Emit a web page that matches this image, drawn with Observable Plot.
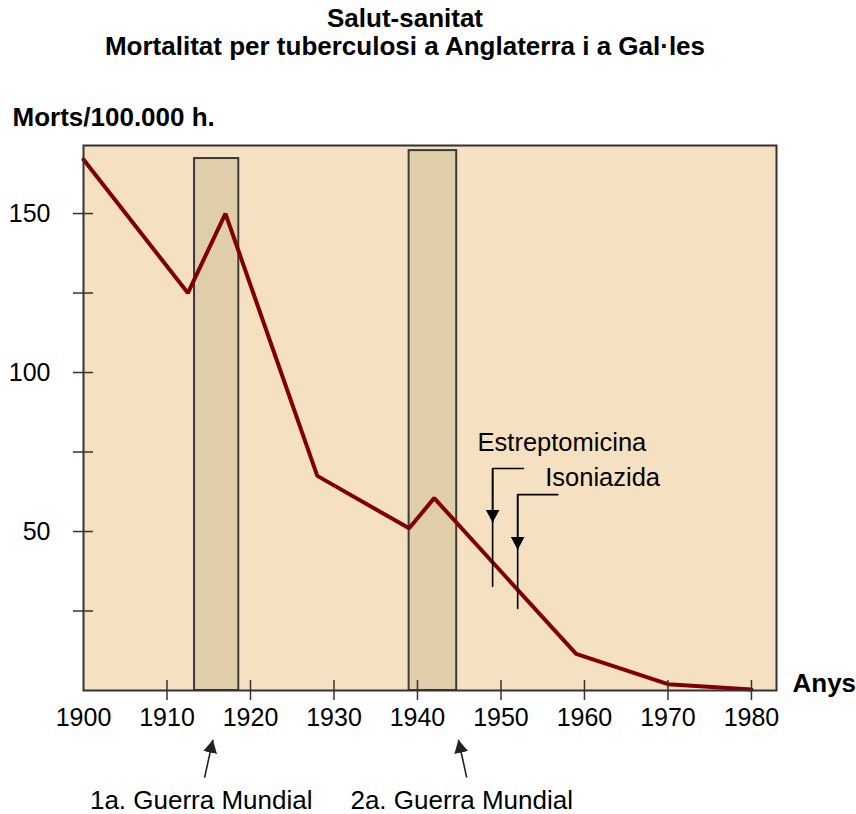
<!DOCTYPE html>
<html><head><meta charset="utf-8">
<script src="https://cdn.jsdelivr.net/npm/d3@7"></script>
<script src="https://cdn.jsdelivr.net/npm/@observablehq/plot@0.6"></script>
<style>
body{margin:0;background:#fff;font-family:"Liberation Sans",Arial,sans-serif;}
#title{width:810px;text-align:center;font-weight:bold;font-size:26px;line-height:28px;padding-top:4px;height:66px;color:#000;}
#chart svg{font-family:"Liberation Sans",Arial,sans-serif;}
</style></head><body>
<div id="title">Salut-sanitat<br>Mortalitat per tuberculosi a Anglaterra i a Gal·les</div>
<div id="chart"></div>
<script>
// Main series: deaths per 100,000 inhabitants
const years  = [1900, 1912.5, 1917, 1928, 1939, 1942, 1959, 1970, 1980];
const deaths = [167,  125,    150,  67.5, 51,   60.5, 11.5, 2,    0.3];

// War periods
const warNames = ["1a. Guerra Mundial", "2a. Guerra Mundial"];
const warStart = [1913.3, 1939.0];
const warEnd   = [1918.6, 1944.7];
const warTop   = [167.3, 169.8];

// Drug introductions
const drugNames = ["Estreptomicina", "Isoniazida"];
const drugYear  = [1949, 1952];

// Axes
const xDomain = [1900, 1983];
const yDomain = [0, 171.4];
const xTickLabels = [1900, 1910, 1920, 1930, 1940, 1950, 1960, 1970, 1980];
const xTickMarks  = [1910, 1920, 1930, 1940, 1950, 1960, 1970, 1980];
const yTickLabels = [50, 100, 150];
const yTickMarks  = [25, 50, 75, 100, 125, 150];

// Annotation anchors (data units)
const drugBracketTop   = [69.8, 61.6];
const drugBracketRight = [1952.7, 1956.8];
const drugLineBottom   = [32.7, 25.8];
const drugArrowTip     = [52.8, 44.3];
const drugLabelX       = [1947.2, 1955.3];
const drugLabelY       = [78, 67];
const warArrowFromX = [1914.5, 1945.9];
const warArrowToX   = [1915.5, 1944.9];
const warArrowFromY = -27.4;
const warArrowToY   = -15.5;
const warLabelX     = [1914.1, 1945.3];
const warLabelY     = -34.6;

const series = years.map((y, i) => ({year: y, value: deaths[i]}));
const wars = warNames.map((n, i) => ({name: n, start: warStart[i], end: warEnd[i], top: warTop[i], base: yDomain[0]}));
const brackets = drugNames.flatMap((n, i) => [
  {name: n, x: drugBracketRight[i], y: drugBracketTop[i]},
  {name: n, x: drugYear[i], y: drugBracketTop[i]},
  {name: n, x: drugYear[i], y: drugLineBottom[i]}
]);
const drugArrows = drugNames.map((n, i) => ({name: n, x: drugYear[i], y1: drugBracketTop[i], y2: drugArrowTip[i]}));
const drugLabels = drugNames.map((n, i) => ({name: n, x: drugLabelX[i], y: drugLabelY[i]}));
const warArrows = warNames.map((n, i) => ({x1: warArrowFromX[i], x2: warArrowToX[i], y1: warArrowFromY, y2: warArrowToY}));
const warLabels = warNames.map((n, i) => ({name: n, x: warLabelX[i], y: warLabelY}));

function triHead(color) {
  const m = d3.create("svg:marker")
    .attr("viewBox", "-13 -7 13 14")
    .attr("markerWidth", 13).attr("markerHeight", 14)
    .attr("markerUnits", "userSpaceOnUse")
    .attr("refX", 0).attr("refY", 0)
    .attr("orient", "auto")
    .attr("fill", color).attr("stroke", "none");
  m.append("path").attr("d", "M0,0L-13,-7L-13,7Z");
  return m.node();
}

const plot = Plot.plot({
  width: 856,
  height: 744,
  marginTop: 75,
  marginBottom: 124,
  marginLeft: 83,
  marginRight: 80,
  x: {domain: xDomain},
  y: {domain: yDomain},
  marks: [
    Plot.frame({fill: "#F5E1C1", stroke: "none"}),
    Plot.rect(wars, {x1: "start", x2: "end", y1: "base", y2: "top", fill: "#E0CDAA", stroke: "#3a3a3a", strokeWidth: 2}),
    Plot.line(series, {x: "year", y: "value", stroke: "#800000", strokeWidth: 4, strokeLinejoin: "miter"}),
    Plot.line(brackets, {x: "x", y: "y", z: "name", stroke: "#000", strokeWidth: 1.6}),
    Plot.link(drugArrows, {x1: "x", x2: "x", y1: "y1", y2: "y2", stroke: "#000", strokeWidth: 1.6, markerEnd: triHead}),
    Plot.text(drugLabels, {x: "x", y: "y", text: "name", textAnchor: "start", fontSize: 25.5, fill: "#000"}),
    Plot.link(warArrows, {x1: "x1", y1: "y1", x2: "x2", y2: "y2", stroke: "#222", strokeWidth: 1.6, markerEnd: triHead}),
    Plot.text(warLabels, {x: "x", y: "y", text: "name", fontSize: 26, fill: "#000"}),
    Plot.ruleX(xTickMarks, {x: d => d, y1: () => yDomain[0], y2: () => yDomain[0], insetTop: -10, insetBottom: -10, stroke: "#333", strokeWidth: 1.5}),
    Plot.ruleY(yTickMarks, {y: d => d, x1: () => xDomain[0], x2: () => xDomain[0], insetLeft: -10, insetRight: -10, stroke: "#333", strokeWidth: 1.5}),
    Plot.frame({stroke: "#333", strokeWidth: 2}),
    Plot.axisX(xTickLabels, {tickSize: 0, tickPadding: 18, fontSize: 25, tickFormat: d => String(d), label: null}),
    Plot.axisY(yTickLabels, {tickSize: 0, tickPadding: 33, fontSize: 25, tickFormat: d => String(d), label: null}),
    Plot.text(["Morts/100.000 h."], {frameAnchor: "top-left", text: d => d, textAnchor: "start", dx: -71, dy: -38, fontSize: 26, fontWeight: "bold", fill: "#000"}),
    Plot.text(["Anys"], {frameAnchor: "bottom-right", text: d => d, textAnchor: "start", dx: 16, dy: 1, fontSize: 26, fontWeight: "bold", fill: "#000"})
  ]
});
document.getElementById("chart").appendChild(plot);
</script>
</body></html>
